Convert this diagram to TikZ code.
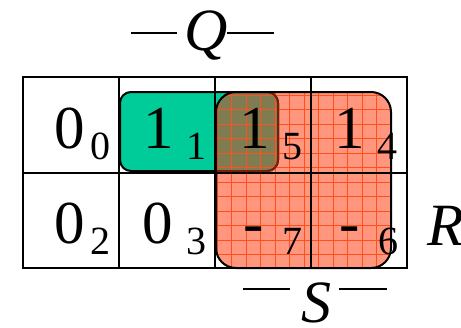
\documentclass[tikz,border=0pt]{standalone}
\usepackage{fontspec}
\setmainfont{Liberation Serif}[Ligatures=TeX]
\newfontfamily\kfont{Liberation Serif}
\definecolor{kgreen}{RGB}{0,204,153}
\definecolor{ksalmon}{RGB}{255,150,125}
\definecolor{kgridline}{RGB}{255,80,30}
\definecolor{kolive}{RGB}{128,124,82}
\definecolor{kdarkred}{RGB}{120,30,10}
\begin{document}
\begin{tikzpicture}[x=1pt,y=-1pt,
  cell/.style={draw,line width=2pt,inner sep=0pt,outer sep=0pt,minimum width=96pt,minimum height=95.5pt},
  big/.style={font=\kfont\fontsize{61}{61}\selectfont,anchor=base,inner sep=0pt},
  small/.style={font=\kfont\fontsize{40}{40}\selectfont,anchor=base,inner sep=0pt},
  var/.style={font=\kfont\fontsize{60}{60}\selectfont\itshape,anchor=base,inner sep=0pt},
  bar/.style={line width=1.8pt}]
\useasboundingbox (0,0) rectangle (461,327);
% red group
\fill[ksalmon,rounded corners=20pt] (216,92) rectangle (391,268);
% green group
\fill[kgreen,rounded corners=11pt] (120,92) rectangle (278,171);
\draw[line width=2pt,rounded corners=11pt] (120,92) rectangle (278,171);
\begin{scope}
  \clip[rounded corners=20pt] (216,92) rectangle (391,268);
  \fill[kolive,rounded corners=11pt] (120,92) rectangle (278,171);
  \foreach \k in {0,...,12} {
    \draw[kgridline,line width=0.5pt] (217+\k*14.5,92) -- (217+\k*14.5,268);
    \draw[kgridline,line width=0.5pt] (216,95+\k*14.5) -- (391,95+\k*14.5);
  }
  \draw[kdarkred,line width=2pt,rounded corners=11pt] (120,92) rectangle (278,171);
\end{scope}
\draw[line width=2pt,rounded corners=20pt] (216,92) rectangle (391,268);
% cells
\node[cell] (c0) at (70.7,125) {};
\node[cell] (c1) at (166.7,125) {};
\node[cell] (c5) at (262.7,125) {};
\node[cell] (c4) at (358.7,125) {};
\node[cell] (c2) at (70.7,220.5) {};
\node[cell] (c3) at (166.7,220.5) {};
\node[cell] (c7) at (262.7,220.5) {};
\node[cell] (c6) at (358.7,220.5) {};
% values
\node[big] (v0) at (69.5,148) {0};
\node[small] (s0) at (100.5,159) {0};
\node[big] (v1) at (159,148) {1};
\node[small] (s1) at (196,159) {1};
\node[big] (v5) at (255,148) {1};
\node[small] (s5) at (292,159) {5};
\node[big] (v4) at (350,148) {1};
\node[small] (s4) at (387,159) {4};
\node[big] (v2) at (69.5,243) {0};
\node[small] (s2) at (100,254) {2};
\node[big] (v3) at (158,243) {0};
\node[small] (s3) at (196.5,254) {3};
\node[big] (v7) at (254,243) {-};
\node[small] (s7) at (292,254) {7};
\node[big] (v6) at (350,243) {-};
\node[small] (s6) at (388,254) {6};
% variable labels
\node[var] (Q) at (206,50) {Q};
\coordinate (qa) at (131,33.3);
\coordinate (qb) at (177,33.3);
\coordinate (qc) at (227,33.3);
\coordinate (qd) at (274,33.3);
\draw[bar] (qa) -- (qb);
\draw[bar] (qc) -- (qd);
\node[var] (S) at (316,322) {S};
\coordinate (sa) at (243,289);
\coordinate (sb) at (290,289);
\coordinate (sc) at (339,289);
\coordinate (sd) at (387,289);
\draw[bar] (sa) -- (sb);
\draw[bar] (sc) -- (sd);
\node[var,anchor=base west] (R) at (427,245) {R};
\end{tikzpicture}
\end{document}
